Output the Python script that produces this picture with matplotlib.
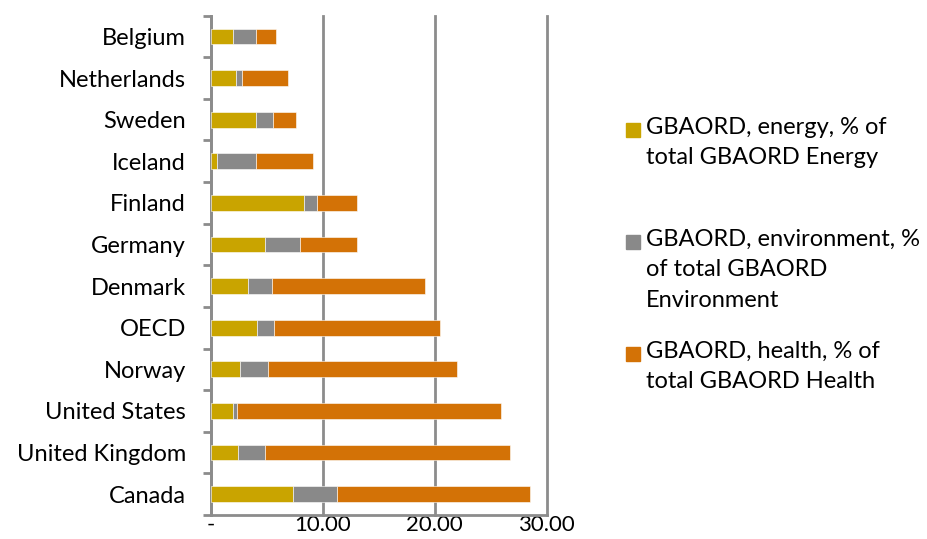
import matplotlib.pyplot as plt
from matplotlib.patches import Rectangle

# Values (% of total GBAORD)
countries = ["Canada", "United Kingdom", "United States", "Norway", "OECD", "Denmark",
             "Germany", "Finland", "Iceland", "Sweden", "Netherlands", "Belgium"]
energy = [7.37, 2.42, 2.00, 2.57, 4.09, 3.31, 4.84, 8.33, 0.54, 4.00, 2.27, 1.94]
environment = [3.88, 2.39, 0.36, 2.56, 1.58, 2.12, 3.10, 1.10, 3.46, 1.52, 0.48, 2.09]
health = [17.26, 21.94, 23.58, 16.84, 14.78, 13.73, 5.13, 3.61, 5.10, 2.03, 4.15, 1.82]

labels = ["GBAORD, energy, % of\ntotal GBAORD Energy",
          "GBAORD, environment, %\nof total GBAORD\nEnvironment",
          "GBAORD, health, % of\ntotal GBAORD Health"]
colors = ["#C9A400", "#898989", "#D37206"]
xticks = [0, 10, 20, 30]
xticklabels = ["-", "10.00", "20.00", "30.00"]

plt.rcParams['font.family'] = ['Lato', 'DejaVu Sans']
axis_col = "#8C8C8C"

fig = plt.figure(figsize=(9.28, 5.39), dpi=100)
ax = fig.add_axes([0.2274, 0.0445, 0.3617, 0.9265])

pos = list(range(len(countries)))
left3 = [e + v for e, v in zip(energy, environment)]
ax.barh(pos, energy, height=0.38, color=colors[0], edgecolor="white", linewidth=0.4, zorder=3)
ax.barh(pos, environment, left=energy, height=0.38, color=colors[1], edgecolor="white", linewidth=0.4, zorder=3)
ax.barh(pos, health, left=left3, height=0.38, color=colors[2], edgecolor="white", linewidth=0.4, zorder=3)

ax.set_xlim(0, 30)
ax.set_ylim(-0.5, len(countries) - 0.5)
ax.set_xticks(xticks)
ax.set_xticklabels(xticklabels, fontsize=16)
ax.set_yticks(pos)
ax.set_yticklabels(countries, fontsize=17)
ax.tick_params(axis='y', length=0, pad=18)
ax.tick_params(axis='x', length=0, pad=0)
# boundary ticks between categories
ax.set_yticks([p - 0.5 for p in pos] + [len(countries) - 0.5], minor=True)
ax.set_xticks(xticks, minor=True)
ax.tick_params(axis='y', which='minor', length=6, width=2, color=axis_col)
ax.tick_params(axis='x', which='minor', length=6, width=2, color=axis_col)

ax.grid(axis='x', color=axis_col, linewidth=2, zorder=0)
for line in ax.get_xgridlines():
    line.set_clip_on(False)
for s in ["top", "right"]:
    ax.spines[s].set_visible(False)
for s in ["left", "bottom"]:
    ax.spines[s].set_color(axis_col)
    ax.spines[s].set_linewidth(2)

# legend, drawn by hand so the square sits on the first line
leg_y = [123, 235, 347]
for lab, col, y in zip(labels, colors, leg_y):
    fig.patches.append(Rectangle((626 / 928, 1 - (y + 14) / 539), 14 / 928, 14 / 539,
                                 transform=fig.transFigure, color=col))
    fig.text(646 / 928, 1 - (y - 6) / 539, lab, fontsize=17, va='top', ha='left',
             linespacing=1.55)

fig.savefig("out.png")
